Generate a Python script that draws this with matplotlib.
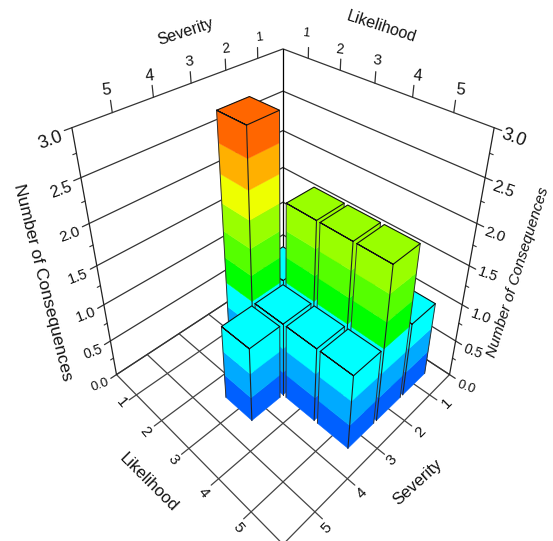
import matplotlib
matplotlib.use("Agg")
import matplotlib.pyplot as plt
from mpl_toolkits.mplot3d.art3d import Poly3DCollection

plt.rcParams['font.family'] = ['Liberation Sans', 'DejaVu Sans']

# bars
severity = [3, 2, 4, 3, 2, 3, 1, 2, 3, 2]
likelihood = [2, 2, 3, 3, 3, 4, 5, 5, 5, 4]
consequences = [3.0, 1.0, 1.0, 1.0, 2.0, 1.0, 1.0, 2.0, 1.0, 2.0]

levels = [0, 1/3, 2/3, 1, 4/3, 5/3, 2, 7/3, 8/3, 3]
colors = ['#0060ff', '#00aaff', '#00ffff', '#00ff00', '#55ff00', '#99ff00',
          '#eeff00', '#ffb000', '#ff6600']

ticks = [1, 2, 3, 4, 5]
zticks = [0.0, 0.5, 1.0, 1.5, 2.0, 2.5, 3.0]
zminor = [0.25, 0.75, 1.25, 1.75, 2.25, 2.75]

lo, hi = 0.15, 5.9
zmax = 3.0
half = 0.45
ink = '#444444'
W, H = 553, 541

fig = plt.figure(figsize=(W / 100, H / 100), dpi=100)
# camera looks at a point near the top of the box, so the axes sit high in the figure
ax = fig.add_axes([5.2 / W, 117 / H, 541 / W, 541 / H], projection='3d', proj_type='persp',
                  focal_length=0.227, computed_zorder=False)
ax.set_axis_off()
ax.view_init(elev=30, azim=45)
ax.set_box_aspect((1, 1, 2.24), zoom=1.397)
ax.set_xlim(lo, hi)
ax.set_ylim(lo, hi)
ax.set_zlim(0, 5.64)
ax.set_autoscale_on(False)


def line(xs, ys, zs, color=ink, lw=0.9, zorder=1):
    ax.plot(xs, ys, zs, color=color, lw=lw, zorder=zorder, solid_capstyle='round', clip_on=False)


def label(x, y, s, size=11, rot=0, **kw):
    fig.text(x / W, 1 - y / H, s, fontsize=size, rotation=rot, ha='center', va='center',
             rotation_mode='anchor', color='#111111', **kw)


# floor
for t in ticks:
    line([lo, hi + 0.2], [t, t], [0, 0])
    line([t, t], [lo, hi + 0.2], [0, 0])
line([lo, hi, hi, lo, lo], [lo, lo, hi, hi, lo], [0, 0, 0, 0, 0])

# walls, the ticks carry on along the wall lines
for z in zticks:
    line([hi + 0.16, lo, lo], [lo, lo, hi + 0.16], [z, z, z], color='#333333')
for z in zminor:
    line([hi, hi + 0.08], [lo, lo], [z, z], color='#333333', lw=0.8)
    line([lo, lo], [hi, hi + 0.08], [z, z], color='#333333', lw=0.8)
line([lo, lo], [lo, lo], [0, zmax], color='black')
line([hi, hi], [lo, lo], [0, zmax], color='#222222')
line([lo, lo], [hi, hi], [0, zmax], color='#222222')
for t in ticks:
    line([t, t], [lo, lo], [zmax, zmax + 0.12], color='#333333')
    line([lo, lo], [t, t], [zmax, zmax + 0.12], color='#333333')

# bars, back to front
order = sorted(range(len(severity)), key=lambda i: severity[i] + likelihood[i])
for n, i in enumerate(order):
    s, l, h = severity[i], likelihood[i], consequences[i]
    x0, x1, y0, y1 = s - half, s + half, l - half, l + half
    z_order = 10 + 2 * n
    for a, b, c in zip(levels[:-1], levels[1:], colors):
        if a >= h - 1e-6:
            break
        polys = [[(x1, y0, a), (x1, y1, a), (x1, y1, b), (x1, y0, b)],
                 [(x0, y1, a), (x1, y1, a), (x1, y1, b), (x0, y1, b)]]
        if abs(b - h) < 1e-6:
            polys.append([(x0, y0, h), (x1, y0, h), (x1, y1, h), (x0, y1, h)])
        ax.add_collection3d(Poly3DCollection(polys, facecolors=c, edgecolors=c,
                                             linewidths=0.3, zorder=z_order, clip_on=False))
    # only the front edge of each bar and its top are outlined
    line([x1, x1], [y1, y1], [0, h], color='#222222', lw=0.8, zorder=z_order + 1)
    line([x1, x1], [y0, y0], [0, h], color='#333333', lw=0.7, zorder=z_order + 1)
    line([x0, x0], [y1, y1], [0, h], color='#333333', lw=0.7, zorder=z_order + 1)
    line([x1, x1, x0, x0, x1, x1], [y1, y0, y0, y1, y1, y0], [h] * 6,
         color='#111111', lw=0.8, zorder=z_order + 1)

# tick labels, placed in pixels from the top left corner
top_sev_xy = [(259, 38), (226, 49), (189, 62), (150, 76), (107, 90)]
top_lik_xy = [(306, 33), (340, 49), (377, 60), (418, 76), (460, 90)]
low_lik_xy = [(122, 403), (145, 432), (173, 460), (203, 493), (238, 528)]
low_sev_xy = [(447, 403), (420, 432), (392, 460), (362, 493), (327, 528)]
z_left_xy = [(100, 385), (93, 352), (86, 315), (78, 277), (70, 235), (61, 190), (51, 140)]
z_right_xy = [(466, 387), (473, 352), (481, 317), (488, 275), (495, 235), (503, 190), (514, 138)]
z_sizes = [9.5, 10, 10.5, 10.5, 11, 11.5, 13]
top_sizes = [9, 10, 11, 11.5, 12]

for t, p, size in zip(ticks, top_sev_xy, top_sizes):
    label(p[0], p[1], str(t), size, 6)
for t, p, size in zip(ticks, top_lik_xy, top_sizes):
    label(p[0], p[1], str(t), size, -6)
for t, p in zip(ticks, low_lik_xy):
    label(p[0], p[1], str(t), 11, -50)
for t, p in zip(ticks, low_sev_xy):
    label(p[0], p[1], str(t), 11, 45)
for z, p, size in zip(zticks, z_left_xy, z_sizes):
    label(p[0], p[1], f'{z:.1f}', size, 20)
for z, p, size in zip(zticks, z_right_xy, z_sizes):
    label(p[0], p[1], f'{z:.1f}', size, -20)

label(186, 32, 'Severity', 11.5, 18)
label(381, 27, 'Likelihood', 11.5, -18)
label(149, 483, 'Likelihood', 12, -45)
label(418, 482, 'Severity', 12, 42)
label(43, 282, 'Number of Consequences', 12.5, -76)
label(518, 272, 'Number of Consequences', 11, 72.5, style='italic')

fig.savefig('out.png', dpi=100)
